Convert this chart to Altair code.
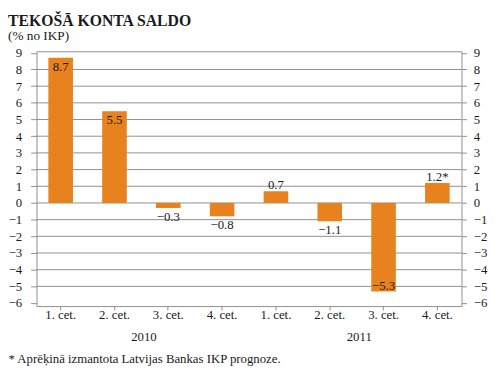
import altair as alt
import pandas as pd

# ---- data ----
years = ["2010", "2010", "2010", "2010", "2011", "2011", "2011", "2011"]
quarters = ["1. cet.", "2. cet.", "3. cet.", "4. cet.", "1. cet.", "2. cet.", "3. cet.", "4. cet."]
values = [8.7, 5.5, -0.3, -0.8, 0.7, -1.1, -5.3, 1.2]
forecast = [False, False, False, False, False, False, False, True]
y_ticks = list(range(-6, 10))
grid_vals = list(range(-5, 9))
year_labels = ["2010", "2011"]

keys = [f"{y}|{q}" for y, q in zip(years, quarters)]


def fmt(v, f):
    s = f"{abs(v):.1f}"
    if v < 0:
        s = "\u2212" + s
    if f:
        s += "*"
    return s


df = pd.DataFrame({"key": keys, "v": values,
                   "label": [fmt(v, f) for v, f in zip(values, forecast)]})
# year label anchored on the 2nd quarter of each year (centred between Q2 and Q3)
yr_df = pd.DataFrame({"year": year_labels,
                      "key": [keys[years.index(y) + 1] for y in year_labels]})
grid_df = pd.DataFrame({"g": grid_vals})

FONT = "Liberation Serif"
GRAY = "#8f8f8f"
TXT = "#1a1a1a"
ORANGE = "#E8821E"
W, H = 432, 259

yscale = alt.Scale(domain=[-6.18, 9.09], nice=False, zero=False)
xscale = alt.Scale(paddingInner=0.543, paddingOuter=0.22)

x_axis = alt.Axis(
    labelExpr="split(datum.label, '|')[1]", labelAngle=0,
    ticks=True, tickSize=4, tickColor=GRAY, domain=False, grid=False,
    labelPadding=9, labelBaseline="alphabetic", labelFont=FONT,
    labelFontSize=13, labelColor=TXT,
    title="* Aprēķinā izmantota Latvijas Bankas IKP prognoze.",
    titleX=-29, titleY=57, titleAlign="left", titleBaseline="alphabetic",
    titleFont=FONT, titleFontSize=13, titleFontWeight="normal", titleColor=TXT,
)
X = alt.X("key:N", sort=keys, scale=xscale, axis=x_axis)
Xn = alt.X("key:N", sort=keys, scale=xscale)

left_axis = alt.Axis(orient="left", values=y_ticks, tickSize=6, tickColor=GRAY,
                     labelPadding=9, domain=False, grid=False, title=None,
                     labelFont=FONT, labelFontSize=13, labelColor=TXT)
right_axis = alt.Axis(orient="right", values=y_ticks, tickSize=5, tickColor=GRAY,
                      labelPadding=7, domain=False, grid=False, title=None,
                      labelFont=FONT, labelFontSize=13, labelColor=TXT)

grid = alt.Chart(grid_df).mark_rule(color=GRAY, strokeWidth=1).encode(
    y=alt.Y("g:Q", scale=yscale, axis=right_axis)
)

bars = alt.Chart(df).mark_bar(color=ORANGE).encode(
    x=X,
    y=alt.Y("v:Q", scale=yscale, axis=left_axis),
    y2=alt.datum(0),
)


def labels(cond, baseline, dy):
    return alt.Chart(df).transform_filter(cond).mark_text(
        font=FONT, fontSize=13, color=TXT, baseline=baseline, dy=dy, align="center"
    ).encode(x=Xn, y=alt.Y("v:Q", scale=yscale, axis=None), text="label:N")


t_in_pos = labels("datum.v >= 2", "alphabetic", 13.5)
t_out_pos = labels("datum.v >= 0 && datum.v < 2", "alphabetic", -2)
t_out_neg = labels("datum.v < 0 && datum.v > -2", "top", 3)
t_in_neg = labels("datum.v <= -2", "alphabetic", -1)

yrs = alt.Chart(yr_df).mark_text(
    font=FONT, fontSize=13, color=TXT, baseline="alphabetic", dy=36, dx=30, align="center"
).encode(x=Xn, y=alt.YDatum(-6.18, scale=yscale, axis=None), text="year:N")

chart = alt.layer(grid, bars, t_in_pos, t_out_pos, t_out_neg, t_in_neg, yrs).resolve_axis(
    y="independent"
).properties(
    width=W, height=H,
    autosize=alt.AutoSizeParams(type="none"),
    padding={"left": 29, "top": 41, "right": 31, "bottom": 63},
    title=alt.TitleParams(
        "TEKOŠĀ KONTA SALDO", subtitle="(% no IKP)", anchor="start", frame="group",
        dx=-29, offset=4, font=FONT, fontSize=16, fontWeight="bold", color=TXT,
        subtitleFont=FONT, subtitleFontSize=13.5, subtitleColor=TXT, subtitlePadding=1,
    ),
).configure_view(stroke=GRAY, strokeWidth=1)

chart.save("out.html", embed_options={"renderer": "svg", "actions": False})
